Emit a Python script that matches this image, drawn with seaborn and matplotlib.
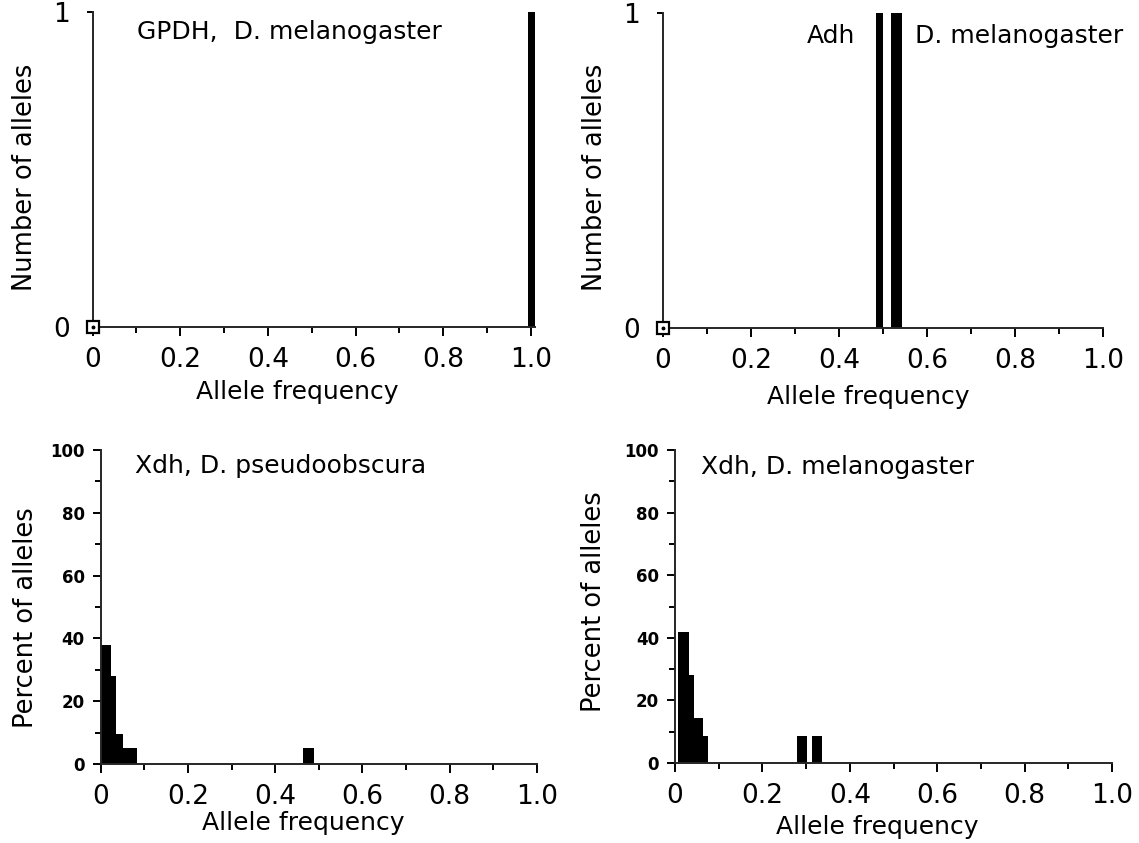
import numpy as np
import pandas as pd
import matplotlib
matplotlib.use("Agg")
import matplotlib.pyplot as plt
import seaborn as sns

# ---------------- data ----------------
# GPDH, D. melanogaster : number of alleles per frequency class
gpdh_edges = [0.993, 1.008]
gpdh_counts = [1]

# Adh, D. melanogaster
adh_edges = [0.485, 0.501, 0.518, 0.544]
adh_counts = [1, 0, 1]

# Xdh, D. pseudoobscura : percent of alleles
xdh_ps_edges = [0.0, 0.023, 0.035, 0.052, 0.083, 0.463, 0.488]
xdh_ps_pct = [38, 28, 9.5, 5, 0, 5]

# Xdh, D. melanogaster : percent of alleles
xdh_mel_edges = [0.008, 0.0315, 0.044, 0.063, 0.076, 0.279, 0.301, 0.314, 0.337]
xdh_mel_pct = [42, 28, 14.5, 8.5, 0, 8.5, 0, 8.5]

x_ticks = [0, 0.2, 0.4, 0.6, 0.8, 1.0]
x_tick_labels = ["0", "0.2", "0.4", "0.6", "0.8", "1.0"]
pct_ticks = [0, 20, 40, 60, 80, 100]
count_ticks = [0, 1]

# ---------------- style ----------------
sns.set_theme(style="ticks")
plt.rcParams["font.family"] = ["DejaVu Sans"]
plt.rcParams["axes.linewidth"] = 1.4
plt.rcParams["text.color"] = "black"
plt.rcParams["axes.labelcolor"] = "black"
plt.rcParams["xtick.color"] = "black"
plt.rcParams["ytick.color"] = "black"

W, H = 1139, 843
fig = plt.figure(figsize=(W / 100, H / 100), dpi=100)
fig.patch.set_facecolor("white")


def px_axes(left, top, right, bottom):
    return fig.add_axes([left / W, 1 - bottom / H, (right - left) / W, (bottom - top) / H])


ax_tl = px_axes(92.5, 12, 534.5, 327)
ax_tr = px_axes(663, 13, 1103, 328)
ax_bl = px_axes(100.7, 450, 536.8, 764)
ax_br = px_axes(675, 450, 1112, 763)


def draw_hist(ax, edges, heights):
    edges = [float(e) for e in edges]
    centers = [(a + b) / 2 for a, b in zip(edges[:-1], edges[1:])]
    df = pd.DataFrame({"freq": centers, "w": [float(h) for h in heights]})
    sns.histplot(data=df, x="freq", weights="w", bins=edges, stat="count",
                 color="black", alpha=1, linewidth=0, edgecolor="black",
                 ax=ax, legend=False)


draw_hist(ax_tl, gpdh_edges, gpdh_counts)
draw_hist(ax_tr, adh_edges, adh_counts)
draw_hist(ax_bl, xdh_ps_edges, xdh_ps_pct)
draw_hist(ax_br, xdh_mel_edges, xdh_mel_pct)

for ax, xmax in [(ax_tl, 1.008), (ax_tr, 1.0), (ax_bl, 1.0), (ax_br, 1.0)]:
    ax.set_xlim(0, xmax)
    sns.despine(ax=ax)
    ax.set_facecolor("white")
    ax.set_xticks(x_ticks)
    ax.set_xticklabels(x_tick_labels)
    ax.set_xticks(np.arange(0.1, 1.0, 0.2), minor=True)
    ax.tick_params(axis="x", which="major", direction="out", length=6.5, width=1.4,
                   labelsize=19, pad=8)
    ax.tick_params(axis="x", which="minor", direction="out", length=4.5, width=1.4)
    ax.set_xlabel("Allele frequency", fontsize=18)

# top panels: counts 0..1
for ax in (ax_tl, ax_tr):
    ax.set_ylim(0, 1)
    ax.set_yticks(count_ticks)
    ax.set_yticklabels(["0", "1"])
    ax.tick_params(axis="y", which="major", direction="out", length=4.5, width=1.4,
                   labelsize=19, pad=12)
    ax.set_ylabel("Number of alleles", fontsize=18.5)
    ax.plot([0], [0], marker="s", ms=8, mfc="white", mec="black", mew=1.6,
            clip_on=False, zorder=5)
    ax.plot([0], [0], marker="o", ms=1.8, color="black", clip_on=False, zorder=6)

# bottom panels: percent 0..100
for ax in (ax_bl, ax_br):
    ax.set_ylim(0, 100)
    ax.set_yticks(pct_ticks)
    ax.set_yticklabels([str(v) for v in pct_ticks], fontweight="bold")
    ax.set_yticks(np.arange(10, 100, 20), minor=True)
    ax.tick_params(axis="y", which="major", direction="out", length=5.5, width=1.4,
                   labelsize=12, pad=6)
    ax.tick_params(axis="y", which="minor", direction="out", length=4, width=1.4)
    ax.set_ylabel("Percent of alleles", fontsize=18.5)

# panel annotations (pixel positions of the figure)
def fig_text(x, y, s, **kw):
    fig.text(x / W, 1 - y / H, s, fontsize=18, va="center", ha="left", **kw)


fig_text(137, 32, "GPDH,  D. melanogaster")
fig_text(807, 36, "Adh")
fig_text(915, 36, "D. melanogaster")
fig_text(135, 466, "Xdh, D. pseudoobscura")
fig_text(701, 467, "Xdh, D. melanogaster")

# label placement
def place_labels(ax, xl, yl):
    bb = ax.get_position()
    (xx, xy), (yx, yy) = xl, yl
    ax.xaxis.set_label_coords((xx / W - bb.x0) / bb.width, ((1 - xy / H) - bb.y0) / bb.height)
    ax.yaxis.set_label_coords((yx / W - bb.x0) / bb.width, ((1 - yy / H) - bb.y0) / bb.height)
    ax.xaxis.label.set_va("center")
    ax.yaxis.label.set_va("center")


place_labels(ax_tl, (297, 392), (25, 177))
place_labels(ax_tr, (868, 397), (595, 177))
place_labels(ax_bl, (303, 823), (26, 618))
place_labels(ax_br, (877, 827), (594, 602))

fig.savefig("out.png", dpi=100, facecolor="white")
